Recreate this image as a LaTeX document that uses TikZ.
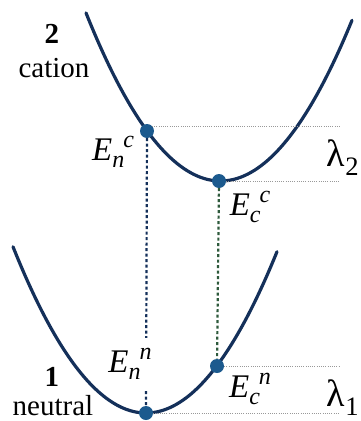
\documentclass[tikz,border=0pt]{standalone}
\usepackage{fontspec}
\setmainfont{Liberation Serif}
\usepackage{xcolor}
\usetikzlibrary{positioning}

\definecolor{curvenavy}{HTML}{14305A}
\definecolor{dotblue}{HTML}{1C5A8E}
\definecolor{dashgreen}{HTML}{2E5A3C}

% E med nedre og oevre indeks, slik figuren skriver dem
\newcommand{\elev}[2]{E\raisebox{-0.2em}{\fontsize{24}{24}\selectfont #1}\kern-1pt\raisebox{0.4em}{\fontsize{24}{24}\selectfont #2}}

\tikzset{
  pes/.style={line width=3.2pt, curvenavy, line cap=round},
  levdot/.style={circle, fill=dotblue, inner sep=0pt, minimum size=14pt},
  vert/.style={line width=2.2pt, dash pattern=on 3pt off 2.5pt},
  level/.style={line width=0.7pt, gray!80, dash pattern=on 1pt off 1.2pt},
  tag/.style={inner sep=0pt, font=\fontsize{29}{31}\selectfont},
  energy/.style={inner sep=1pt, font=\fontsize{33}{35}\selectfont\itshape},
  reorg/.style={inner sep=0pt, font=\fontsize{38}{40}\selectfont}
}

\begin{document}
\begin{tikzpicture}[x=1pt, y=-1pt]
  \useasboundingbox (0,0) rectangle (361,421);
  % Potensialkurver: kation (oppe) og nøytral (nede)
  \draw[pes, domain=86:352, smooth, samples=80, variable=\x]
    plot ({\x},{181 - 0.0093*(\x-220.5)*(\x-220.5)});
  \draw[pes, domain=13:277, smooth, samples=80, variable=\x]
    plot ({\x},{413 - 0.0094*(\x-146)*(\x-146)});
  % Nivaaer
  \node[levdot] (Enc) at (147,131) {};
  \node[levdot] (Ecc) at (219,181) {};
  \node[levdot] (Enn) at (146,413) {};
  \node[levdot] (Ecn) at (217,366) {};
  \coordinate (rim) at (340,0);
  % Vertikale overganger
  \draw[vert, curvenavy] (Enc) -- (Enn);
  \draw[vert, dashgreen] (Ecc) -- (Ecn);
  % Horisontale nivaalinjer
  \draw[level] (Enc.north east) -- (Enc.north east -| rim);
  \draw[level] (Ecc.east) -- (Ecc.east -| rim);
  \draw[level] (Ecn.east) -- (Ecn.east -| rim);
  \draw[level] (Enn.east) -- (Enn.east -| rim);
  % Tekst
  \node[tag, font=\fontsize{29}{31}\selectfont\bfseries] (two) at (52,34) {2};
  \node[tag] (cation) at (54,68) {cation};
  \node[tag, font=\fontsize{29}{31}\selectfont\bfseries] (one) at (52,377) {1};
  \node[tag] (neutral) at (53,406) {neutral};
  \node[energy] (lEnc) at (113,152) {\elev{n}{c}};
  \node[energy] (lEcc) at (250,207) {\elev{c}{c}};
  \node[energy, fill=white, inner ysep=10pt] (lEnn) at (130,364) {\elev{n}{n}};
  \node[energy] (lEcn) at (250,389) {\elev{c}{n}};
  \node[reorg] (lam2) at (343,158) {λ\textsubscript{2}};
  \node[reorg] (lam1) at (343,398) {λ\textsubscript{1}};
\end{tikzpicture}
\end{document}
